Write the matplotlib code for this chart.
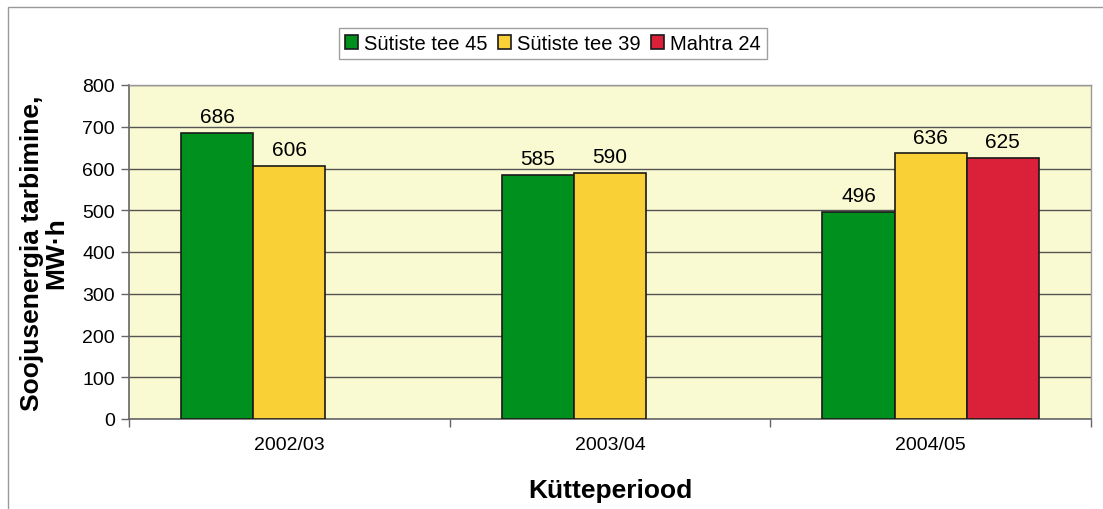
import matplotlib
matplotlib.use("Agg")
import matplotlib.pyplot as plt
import numpy as np
from matplotlib.patches import Rectangle

periods = ["2002/03", "2003/04", "2004/05"]
series_names = ["Sütiste tee 45", "Sütiste tee 39", "Mahtra 24"]
sutiste45 = [686, 585, 496]
sutiste39 = [606, 590, 636]
mahtra24 = [None, None, 625]
colors = ["#00901E", "#F9D136", "#DA2139"]

plt.rcParams["font.family"] = ["Liberation Sans", "DejaVu Sans"]

fig = plt.figure(figsize=(11.03, 5.10), dpi=100)
ax = fig.add_axes([129 / 1103, 1 - 420 / 510, (1091 - 129) / 1103, (420 - 86) / 510])
ax.set_facecolor("#FAFAD2")

x = np.arange(len(periods))
width = 0.225
offsets = [-width, 0, width]
for vals, off, col, name in zip([sutiste45, sutiste39, mahtra24], offsets, colors, series_names):
    xs = [xi + off for xi, v in zip(x, vals) if v is not None]
    ys = [v for v in vals if v is not None]
    bars = ax.bar(xs, ys, width, color=col, edgecolor="#1a1a1a", linewidth=1.2,
                  label=name, zorder=3)
    for b, v in zip(bars, ys):
        ax.text(b.get_x() + b.get_width() / 2, v + 16, str(v), ha="center",
                va="bottom", fontsize=15)

ax.set_xlim(-0.5, 2.5)
ax.set_ylim(0, 800)
ax.set_yticks(range(0, 801, 100))
ax.yaxis.grid(True, color="#555555", linewidth=1.0, zorder=0)
ax.set_axisbelow(True)
ax.tick_params(axis="y", labelsize=14, length=6, color="#666666", width=1.0, pad=4)

ax.set_xticks(x)
ax.set_xticklabels(periods, fontsize=14)
ax.tick_params(axis="x", which="major", length=0, pad=12)
ax.set_xticks(np.arange(-0.5, 2.6, 1), minor=True)
ax.tick_params(axis="x", which="minor", length=6, color="#666666", width=1.0)

for s in ["left", "bottom"]:
    ax.spines[s].set_color("#666666")
    ax.spines[s].set_linewidth(1.2)
for s in ["top", "right"]:
    ax.spines[s].set_color("#999999")
    ax.spines[s].set_linewidth(1.0)

ax.set_ylabel("Soojusenergia tarbimine,\nMW·h", fontsize=19, fontweight="bold",
              labelpad=10, linespacing=1.0)
ax.set_xlabel("Kütteperiood", fontsize=19, fontweight="bold", labelpad=18)

leg = ax.legend(loc="upper center", bbox_to_anchor=((553 - 129) / 962, 1.17), ncol=3,
                fontsize=14.5, frameon=True, fancybox=False, edgecolor="#888888",
                handlelength=0.65, handleheight=0.65, handletextpad=0.3,
                columnspacing=0.5, borderpad=0.3, borderaxespad=0)
leg.get_frame().set_linewidth(1.0)

# outer chart border
fig.patches.append(Rectangle((8 / 1103, -0.01), 1.0, 1 - 8 / 510 + 0.01,
                             transform=fig.transFigure, fill=False,
                             edgecolor="#999999", linewidth=1.0))

fig.savefig("out.png", dpi=100)
